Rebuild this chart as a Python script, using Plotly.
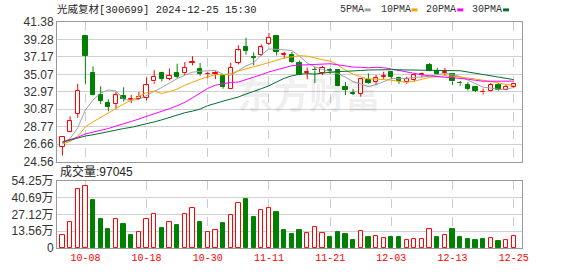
import plotly.graph_objects as go

# ---------------- data ----------------
dates = ["09-26", "09-27", "09-30", "10-08", "10-09", "10-10", "10-11", "10-14", "10-15", "10-16",
         "10-17", "10-18", "10-21", "10-22", "10-23", "10-24", "10-25", "10-28", "10-29", "10-30",
         "10-31", "11-01", "11-04", "11-05", "11-06", "11-07", "11-08", "11-11", "11-12", "11-13",
         "11-14", "11-15", "11-18", "11-19", "11-20", "11-21", "11-22", "11-25", "11-26", "11-27",
         "11-28", "11-29", "12-02", "12-03", "12-04", "12-05", "12-06", "12-09", "12-10", "12-11",
         "12-12", "12-13", "12-16", "12-17", "12-18", "12-19", "12-20", "12-23", "12-24", "12-25"]

opens = [26.35, 28.15, 30.32, 39.66, 35.19, 32.59, 31.57, 31.49, 32.47, 32.00,
         32.15, 32.27, 34.22, 35.19, 34.52, 35.19, 35.27, 36.43, 35.77, 35.08,
         35.12, 34.85, 33.36, 36.47, 38.38, 37.20, 37.44, 38.78, 39.74, 37.40,
         37.41, 36.44, 35.28, 35.62, 35.27, 35.55, 35.58, 33.56, 32.82, 32.74,
         34.41, 34.14, 34.78, 35.31, 34.69, 34.10, 34.45, 35.00, 36.16, 35.50,
         35.20, 35.11, 34.06, 33.82, 33.52, 32.90, 33.05, 33.75, 33.20, 33.56]
highs = [27.60, 30.02, 33.94, 39.66, 36.04, 33.64, 32.07, 32.97, 33.52, 32.60,
         32.97, 34.69, 35.58, 35.39, 35.77, 36.36, 36.56, 37.26, 36.44, 35.39,
         35.46, 35.00, 36.47, 38.58, 39.48, 37.72, 38.69, 40.06, 39.74, 37.79,
         37.79, 36.74, 35.89, 35.97, 36.09, 35.86, 35.70, 34.14, 33.32, 34.55,
         35.19, 35.00, 35.40, 35.39, 34.80, 34.80, 35.15, 35.30, 36.44, 35.86,
         35.86, 35.19, 34.28, 34.14, 33.64, 33.36, 34.02, 34.02, 33.85, 34.02]
lows = [25.30, 28.10, 29.85, 33.94, 32.50, 31.49, 30.63, 30.87, 31.80, 31.60,
        32.04, 31.95, 33.94, 34.22, 34.37, 34.60, 34.99, 36.16, 34.92, 34.60,
        34.50, 33.35, 33.30, 36.28, 37.44, 36.16, 37.30, 38.65, 37.35, 36.95,
        36.44, 34.95, 34.49, 34.02, 34.99, 35.10, 33.60, 32.59, 32.59, 32.39,
        33.94, 33.82, 34.52, 34.55, 33.94, 33.94, 34.20, 34.70, 35.45, 35.05,
        34.95, 33.82, 33.70, 33.12, 32.97, 32.66, 33.00, 33.10, 33.15, 33.44]
closes = [27.52, 29.43, 33.05, 37.33, 32.54, 31.88, 31.14, 32.54, 32.12, 32.08,
          32.35, 33.75, 34.80, 34.52, 34.92, 34.80, 35.86, 36.56, 35.11, 35.13,
          35.18, 33.55, 35.86, 37.95, 37.88, 37.10, 38.31, 39.48, 37.80, 37.48,
          36.56, 34.99, 35.33, 35.55, 35.86, 35.50, 33.64, 33.17, 32.77, 34.49,
          34.02, 34.69, 34.90, 34.80, 34.22, 34.49, 34.95, 35.10, 35.50, 35.11,
          35.30, 34.22, 33.98, 33.32, 33.12, 33.00, 33.75, 33.17, 33.56, 33.90]

ma5 = [26.78, 27.35, 28.64, 30.79, 31.97, 32.85, 33.19, 33.09, 32.04, 31.96,
       32.05, 32.57, 33.02, 33.50, 34.06, 34.56, 34.98, 35.33, 35.45, 35.48,
       35.55, 35.08, 34.97, 35.53, 36.10, 36.46, 37.42, 38.14, 38.12, 38.03,
       37.93, 37.26, 36.43, 35.98, 35.66, 35.45, 35.18, 34.74, 34.19, 33.91,
       33.62, 33.83, 34.17, 34.58, 34.53, 34.62, 34.67, 34.71, 34.85, 35.03,
       35.19, 35.05, 34.82, 34.39, 33.99, 33.53, 33.43, 33.27, 33.32, 33.48]
ma10 = [26.69, 26.98, 27.62, 28.75, 29.35, 29.90, 30.45, 31.00, 31.50, 31.96,
        32.44, 32.88, 33.05, 32.77, 33.01, 33.30, 33.77, 34.17, 34.48, 34.78,
        35.06, 35.04, 35.14, 35.48, 35.77, 35.99, 36.23, 36.52, 36.79, 37.04,
        37.18, 37.32, 37.27, 37.03, 36.84, 36.68, 36.21, 35.58, 35.09, 34.79,
        34.53, 34.50, 34.46, 34.38, 34.22, 34.12, 34.25, 34.44, 34.72, 34.78,
        34.91, 34.86, 34.77, 34.62, 34.51, 34.36, 34.24, 34.05, 33.85, 33.73]
ma20 = [26.95, 27.20, 27.50, 27.90, 28.10, 28.30, 28.55, 28.85, 29.10, 29.40,
        29.70, 30.00, 30.30, 30.60, 30.95, 31.30, 31.70, 32.25, 32.80, 33.38,
        33.77, 33.97, 34.11, 34.15, 34.42, 34.67, 35.03, 35.37, 35.65, 35.91,
        36.12, 36.19, 36.21, 36.26, 36.31, 36.35, 36.23, 36.06, 35.95, 35.92,
        35.86, 35.92, 35.87, 35.72, 35.53, 35.40, 35.23, 35.02, 34.90, 34.78,
        34.72, 34.68, 34.61, 34.50, 34.36, 34.24, 34.25, 34.25, 34.28, 34.26]
ma30 = [26.90, 27.15, 27.40, 27.65, 27.80, 28.00, 28.20, 28.40, 28.55, 28.70,
        28.90, 29.10, 29.35, 29.60, 29.90, 30.20, 30.45, 30.65, 30.90, 31.30,
        31.60, 31.85, 32.10, 32.35, 32.70, 33.00, 33.35, 33.70, 34.15, 34.60,
        34.90, 35.09, 35.16, 35.11, 35.22, 35.34, 35.42, 35.44, 35.46, 35.54,
        35.60, 35.63, 35.63, 35.64, 35.62, 35.61, 35.58, 35.53, 35.54, 35.54,
        35.55, 35.57, 35.51, 35.36, 35.20, 35.07, 34.91, 34.70, 34.56, 34.44]

# volume in 万 (10k lots)
volumes = [10.8, 20.8, 47.9, 50.3, 39.2, 23.4, 15.6, 23.4, 19.5, 10.3,
           12.9, 23.4, 27.4, 16.3, 20.8, 18.7, 27.9, 32.1, 21.3, 12.9,
           14.8, 20.3, 26.6, 36.6, 39.3, 25.3, 30.6, 32.7, 29.2, 14.2,
           11.1, 14.8, 12.2, 16.9, 12.2, 8.5, 12.9, 11.6, 6.1, 13.7,
           9.0, 9.8, 8.2, 8.5, 9.2, 6.6, 7.4, 7.4, 15.6, 9.2,
           10.8, 15.6, 8.5, 7.4, 6.6, 7.4, 8.2, 5.8, 6.6, 9.7045]
vol_dir = ["r", "r", "r", "r", "g", "g", "g", "r", "g", "g",
           "r", "r", "r", "g", "r", "g", "r", "r", "g", "r",
           "r", "g", "r", "r", "g", "g", "r", "r", "g", "g",
           "g", "g", "r", "r", "r", "g", "g", "g", "g", "r",
           "g", "r", "r", "g", "g", "r", "r", "r", "r", "g",
           "r", "g", "g", "g", "g", "g", "r", "g", "r", "r"]

price_ticks = [24.56, 26.66, 28.77, 30.87, 32.97, 35.07, 37.17, 39.28, 41.38]
price_tick_labels = ["24.56", "26.66", "28.77", "30.87", "32.97", "35.07", "37.17", "39.28", "41.38"]
vol_ticks = [0, 13.56, 27.12, 40.69, 54.25]
vol_tick_labels = ["0", "13.56万", "27.12万", "40.69万", "54.25万"]
date_ticks = ["10-08", "10-18", "10-30", "11-11", "11-21", "12-03", "12-13", "12-25"]
date_tick_labels = ["10-08", "10-18", "10-30", "11-11", "11-21", "12-03", "12-13", "12-25"]

title_text = "光威复材[300699] 2024-12-25 15:30"
vol_title = "成交量:97045"
ma_names = ["5PMA", "10PMA", "20PMA", "30PMA"]
watermark = "东方财富"

# ---------------- style ----------------
RED = "#ff0000"
GREEN = "#008000"
MA_COLORS = ["#a0a0a0", "#f5a300", "#ff00ff", "#006e33"]
W, H = 578, 276
L, R, T, B = 55, 522, 22, 255
PRICE_BOTTOM = 166
VOL_TOP = 186


def px2x(px):
    return (px - L) / (R - L)


def py2y(py):
    return (B - py) / (B - T)


fig = go.Figure()

# candles: wicks (split around body so hollow boxes stay clean)
for col, is_up in ((RED, True), (GREEN, False)):
    wx, wy = [], []
    bx, bbase, bh = [], [], []
    for d, o, h, lo, c in zip(dates, opens, highs, lows, closes):
        up = c >= o
        if up != is_up:
            continue
        top, bot = max(o, c), min(o, c)
        if h > top:
            wx += [d, d, None]
            wy += [top, h, None]
        if lo < bot:
            wx += [d, d, None]
            wy += [lo, bot, None]
        bx.append(d)
        bbase.append(bot)
        bh.append(max(top - bot, 0.04))
    fig.add_trace(go.Scatter(x=wx, y=wy, mode="lines", line=dict(color=col, width=1),
                             hoverinfo="skip", showlegend=False, xaxis="x", yaxis="y"))
    fig.add_trace(go.Bar(x=bx, y=bh, base=bbase, width=0.56,
                         marker=dict(color="#ffffff" if is_up else col, line=dict(color=col, width=1)),
                         showlegend=False, xaxis="x", yaxis="y"))

# moving averages
for name, vals, col in zip(ma_names, [ma5, ma10, ma20, ma30], MA_COLORS):
    fig.add_trace(go.Scatter(x=dates, y=vals, mode="lines", name=name,
                             line=dict(color=col, width=1), showlegend=False,
                             xaxis="x", yaxis="y"))

# volume bars
for col, key in ((RED, "r"), (GREEN, "g")):
    vx = [d for d, k in zip(dates, vol_dir) if k == key]
    vy = [v for v, k in zip(volumes, vol_dir) if k == key]
    fig.add_trace(go.Bar(x=vx, y=vy, width=0.56,
                         marker=dict(color="#ffffff" if key == "r" else col, line=dict(color=col, width=1)),
                         showlegend=False, xaxis="x2", yaxis="y2"))

axis_common = dict(showline=True, linecolor="#999999", linewidth=1, mirror=True,
                   zeroline=False, ticks="")
xr = [-0.71, len(dates) - 1 + 1.08]

fig.update_layout(
    width=W, height=H, autosize=False,
    margin=dict(l=L, r=W - R, t=T, b=H - B, pad=0),
    paper_bgcolor="white", plot_bgcolor="white",
    barmode="overlay", bargap=0,
    xaxis=dict(domain=[0, 1], anchor="y", type="category", categoryorder="array",
               categoryarray=dates, range=xr, tickvals=date_ticks, showticklabels=False,
               showgrid=True, gridcolor="#cccccc", griddash="dash", gridwidth=1, **axis_common),
    yaxis=dict(domain=[py2y(PRICE_BOTTOM), 1], anchor="x", range=[price_ticks[0], price_ticks[-1]],
               tickvals=price_ticks, ticktext=price_tick_labels, showgrid=True,
               gridcolor="#d0d0d0", gridwidth=1,
               tickfont=dict(family="Liberation Sans, Arial", size=12, color="#333333"),
               **axis_common),
    xaxis2=dict(domain=[0, 1], anchor="y2", type="category", categoryorder="array",
                categoryarray=dates, range=xr, tickvals=date_ticks, ticktext=date_tick_labels,
                showgrid=True, gridcolor="#cccccc", griddash="dash", gridwidth=1,
                tickfont=dict(family="Liberation Mono, monospace", size=10, color=RED),
                **axis_common),
    yaxis2=dict(domain=[0, py2y(VOL_TOP)], anchor="x2", range=[vol_ticks[0], vol_ticks[-1]],
                tickvals=vol_ticks, ticktext=vol_tick_labels, showgrid=True,
                gridcolor="#d0d0d0", gridwidth=1,
                tickfont=dict(family="Liberation Sans, Noto Sans CJK SC", size=12, color="#333333"),
                **axis_common),
)

annotations = [
    dict(text=title_text, x=px2x(53), y=py2y(9.5), xanchor="left", yanchor="middle",
         font=dict(family="Liberation Mono, Noto Sans CJK SC", size=10.5, color="#222222")),
    dict(text=vol_title, x=px2x(56), y=py2y(176.5), xanchor="left", yanchor="middle",
         font=dict(family="Liberation Sans, Noto Sans CJK SC", size=12, color="#222222")),
    dict(text=watermark, x=px2x(308), y=py2y(95), xanchor="center", yanchor="middle",
         font=dict(family="Noto Sans CJK SC", size=36, color="rgba(0,0,0,0.08)", weight="bold")),
]
legend_x = [337, 378, 424, 470]
shapes = []
for name, col, lx in zip(ma_names, MA_COLORS, legend_x):
    annotations.append(dict(text=name, x=px2x(lx), y=py2y(9.5), xanchor="left", yanchor="middle",
                            font=dict(family="Liberation Mono, monospace", size=10, color="#333333")))
    tw = 6 * len(name) + lx + 3
    shapes.append(dict(type="rect", xref="paper", yref="paper",
                       x0=px2x(tw), x1=px2x(tw + 6), y0=py2y(11), y1=py2y(8),
                       fillcolor=col, line=dict(width=0)))
for a in annotations:
    a.update(xref="paper", yref="paper", showarrow=False)
fig.update_layout(annotations=annotations, shapes=shapes)

fig.write_html("out.html", config={"displayModeBar": False})
